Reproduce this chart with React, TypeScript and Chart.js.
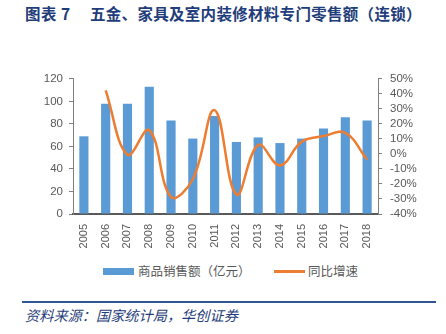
import React, { useEffect, useRef } from "react";
import { Chart, registerables } from "chart.js";

Chart.register(...registerables);

const years = ["2005","2006","2007","2008","2009","2010","2011","2012","2013","2014","2015","2016","2017","2018"];
const sales = [69, 98, 98, 113, 83, 67, 87, 64, 68, 63, 67, 76, 86, 83];
const growth: (number | null)[] = [null, 42.4, -0.5, 15.8, -28.6, -16.7, 29.2, -27, 6, -7.6, 8.2, 11.9, 14, -3.7];
const salesLabel = "商品销售额（亿元）";
const growthLabel = "同比增速";
const titleNo = "图表 7";
const titleText = "五金、家具及室内装修材料专门零售额（连锁）";
const source = "资料来源：国家统计局，华创证券";

const BAR = "#5B9BD5";
const LINE = "#ED7D31";
const TXT = "#595959";
const FONT = "'Liberation Sans', 'Noto Sans CJK SC', sans-serif";
const CJK = "'Noto Sans CJK SC', sans-serif";

export default function App() {
  const ref = useRef<HTMLCanvasElement | null>(null);
  useEffect(() => {
    if (!ref.current) return;
    const chart = new Chart(ref.current, {
      data: {
        labels: years,
        datasets: [
          {
            type: "line",
            label: growthLabel,
            data: growth,
            yAxisID: "y1",
            borderColor: LINE,
            backgroundColor: LINE,
            borderWidth: 2.5,
            pointRadius: 0,
            tension: 0.4,
            cubicInterpolationMode: "default",
            order: 0,
          } as any,
          {
            type: "bar",
            label: salesLabel,
            data: sales,
            yAxisID: "y",
            backgroundColor: BAR,
            barPercentage: 0.42,
            categoryPercentage: 1,
            order: 1,
          } as any,
        ],
      },
      options: {
        animation: false,
        responsive: false,
        maintainAspectRatio: false,
        layout: { padding: { top: 10, left: 0, right: 0, bottom: 0 } },
        plugins: { legend: { display: false }, tooltip: { enabled: false } },
        scales: {
          x: {
            offset: true,
            grid: { display: false, drawOnChartArea: false },
            border: { display: true, color: "#595959", width: 2 },
            ticks: {
              color: TXT,
              font: { family: FONT, size: 11 },
              minRotation: 90,
              maxRotation: 90,
              padding: 2,
              autoSkip: false,
            },
            afterFit: (s: any) => { s.height = 36; },
          },
          y: {
            position: "left",
            min: 0,
            max: 120,
            grid: { display: true, drawOnChartArea: false, drawTicks: true, tickLength: 4, color: "#808080" },
            border: { display: true, color: "#808080", width: 1 },
            ticks: { stepSize: 20, autoSkip: false, color: TXT, font: { family: FONT, size: 11.5 }, padding: 6 },
            afterFit: (s: any) => { s.width = 73; },
          },
          y1: {
            position: "right",
            min: -40,
            max: 50,
            grid: { display: true, drawOnChartArea: false, drawTicks: true, tickLength: 4, color: "#808080" },
            border: { display: true, color: "#808080", width: 1 },
            ticks: {
              stepSize: 10,
              autoSkip: false,
              color: TXT,
              font: { family: FONT, size: 11.5 },
              padding: 8,
              callback: (v: any) => v + "%",
            },
            afterFit: (s: any) => { s.width = 68; },
          },
        },
      },
    });
    return () => chart.destroy();
  }, []);

  const titleStyle: React.CSSProperties = {
    position: "absolute",
    top: 3,
    fontFamily: CJK,
    fontWeight: 700,
    fontSize: 15.5,
    color: "#1F3D7A",
    whiteSpace: "pre",
    lineHeight: "20px",
  };

  return (
    <div style={{ position: "fixed", left: 0, top: 0, width: 446, height: 334, background: "#fff", overflow: "hidden" }}>
      <div style={{ ...titleStyle, left: 25, letterSpacing: 0.5 }}>{titleNo}</div>
      <div style={{ ...titleStyle, left: 90, letterSpacing: 0.3, fontFeatureSettings: "'fwid' 1" }}>{titleText}</div>
      <canvas ref={ref} width={446} height={186} style={{ position: "absolute", left: 0, top: 64, width: 446, height: 186 }} />
      <div style={{ position: "absolute", left: 103, top: 268, width: 31, height: 7, background: BAR }} />
      <div
        style={{
          position: "absolute", left: 138, top: 262, fontFamily: CJK,
          fontSize: 12.5, color: TXT, lineHeight: "18px", whiteSpace: "pre",
        }}
      >
        {salesLabel}
      </div>
      <div style={{ position: "absolute", left: 274, top: 270, width: 31, height: 2.5, background: LINE }} />
      <div
        style={{
          position: "absolute", left: 308, top: 262, fontFamily: CJK,
          fontSize: 12.5, color: TXT, lineHeight: "18px", whiteSpace: "pre",
        }}
      >
        {growthLabel}
      </div>
      <div style={{ position: "absolute", left: 22, top: 301, width: 414, height: 2, background: "#2F5597" }} />
      <div
        style={{
          position: "absolute", left: 25, top: 306, fontFamily: CJK,
          fontStyle: "italic", fontSize: 14.2, color: "#1F3D7A", lineHeight: "18px", whiteSpace: "pre",
        }}
      >
        {source}
      </div>
    </div>
  );
}
